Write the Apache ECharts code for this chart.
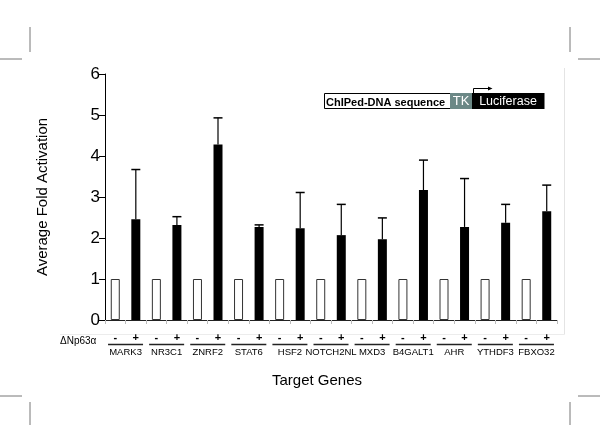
<!DOCTYPE html>
<html><head><meta charset="utf-8">
<script src="https://cdn.jsdelivr.net/npm/echarts@6/dist/echarts.min.js"></script>
<style>html,body{margin:0;padding:0;background:#fff}#c{width:600px;height:425px}</style>
</head><body><div id="c"></div>
<script>
const genes = ['MARK3','NR3C1','ZNRF2','STAT6','HSF2','NOTCH2NL','MXD3','B4GALT1','AHR','YTHDF3','FBXO32'];
const signs = ['-', '+'];
const controlValues = [1, 1, 1, 1, 1, 1, 1, 1, 1, 1, 1];
const treatedValues = [2.46, 2.32, 4.28, 2.27, 2.24, 2.07, 1.97, 3.17, 2.27, 2.37, 2.65];
const treatedErrors = [1.21, 0.20, 0.65, 0.05, 0.87, 0.75, 0.52, 0.73, 1.18, 0.45, 0.64];
const yMin = 0, yMax = 6, yStep = 1;

const FONT = 'Liberation Sans, Arial, sans-serif';
const cats = [];
const barData = [];
const errData = [];
genes.forEach((g, i) => {
  cats.push(g + '|' + signs[0]);
  barData.push({ value: controlValues[i], itemStyle: { color: '#fff', borderColor: '#333', borderWidth: 1 } });
  cats.push(g + '|' + signs[1]);
  barData.push({ value: treatedValues[i], itemStyle: { color: '#000' } });
  errData.push([2 * i + 1, treatedValues[i], treatedValues[i] + treatedErrors[i]]);
});

const chart = echarts.init(document.getElementById('c'), null, { renderer: 'canvas' });
const cropColor = '#777';
chart.setOption({
  animation: false,
  backgroundColor: '#fff',
  grid: { left: 105, right: 43, top: 74, bottom: 105, containLabel: false },
  xAxis: [{
    type: 'category', data: cats, position: 'bottom',
    axisLine: { lineStyle: { color: '#222', width: 1 } },
    axisTick: { show: true, length: 4, lineStyle: { color: '#bbb' } },
    axisLabel: { interval: 0, margin: 12, fontFamily: FONT, fontSize: 11, fontWeight: 'bold', color: '#000',
      formatter: v => v.split('|')[1] }
  }, {
    type: 'category', data: genes, position: 'bottom', gridIndex: 0,
    axisLine: { show: false }, axisTick: { show: false },
    axisLabel: { interval: 0, margin: 23.5, color: '#000',
      formatter: v => '{ln| }\n{nm|' + v + '}',
      rich: {
        ln: { width: 35, height: 1.5, lineHeight: 2, fontSize: 1, backgroundColor: '#222' },
        nm: { fontFamily: FONT, fontSize: 9.5, lineHeight: 12, color: '#000', padding: [1, 0, 0, 0] }
      } }
  }],
  yAxis: {
    type: 'value', min: yMin, max: yMax, interval: yStep,
    name: 'Average Fold Activation', nameLocation: 'middle', nameGap: 55, nameRotate: 90,
    nameTextStyle: { fontFamily: FONT, fontSize: 15, color: '#000' },
    axisLine: { show: true, lineStyle: { color: '#000', width: 1 } },
    axisTick: { show: true, length: 6, lineStyle: { color: '#000' } },
    axisLabel: { fontFamily: FONT, fontSize: 17, color: '#000', margin: 5 },
    splitLine: { show: false }
  },
  series: [{
    type: 'bar', xAxisIndex: 0, data: barData, barWidth: 9
  }, {
    type: 'custom', xAxisIndex: 0, data: errData, z: 3,
    renderItem: (params, api) => {
      const base = api.coord([api.value(0), api.value(1)]);
      const top = api.coord([api.value(0), api.value(2)]);
      const hw = 4.5;
      return { type: 'group', children: [
        { type: 'line', shape: { x1: base[0], y1: base[1], x2: top[0], y2: top[1] }, style: { stroke: '#000', lineWidth: 1.2 } },
        { type: 'line', shape: { x1: top[0] - hw, y1: top[1], x2: top[0] + hw, y2: top[1] }, style: { stroke: '#000', lineWidth: 1.5 } }
      ] };
    }
  }],
  graphic: [
    // crop marks
    { type: 'line', shape: { x1: 30, y1: 27, x2: 30, y2: 52 }, style: { stroke: cropColor, lineWidth: 1 } },
    { type: 'line', shape: { x1: 0, y1: 59, x2: 22, y2: 59 }, style: { stroke: cropColor, lineWidth: 1 } },
    { type: 'line', shape: { x1: 570, y1: 27, x2: 570, y2: 52 }, style: { stroke: cropColor, lineWidth: 1 } },
    { type: 'line', shape: { x1: 578, y1: 59, x2: 600, y2: 59 }, style: { stroke: cropColor, lineWidth: 1 } },
    { type: 'line', shape: { x1: 0, y1: 396, x2: 22, y2: 396 }, style: { stroke: cropColor, lineWidth: 1 } },
    { type: 'line', shape: { x1: 30, y1: 402, x2: 30, y2: 425 }, style: { stroke: cropColor, lineWidth: 1 } },
    { type: 'line', shape: { x1: 578, y1: 396, x2: 600, y2: 396 }, style: { stroke: cropColor, lineWidth: 1 } },
    { type: 'line', shape: { x1: 570, y1: 402, x2: 570, y2: 425 }, style: { stroke: cropColor, lineWidth: 1 } },
    // faint frame
    { type: 'line', shape: { x1: 564.5, y1: 68, x2: 564.5, y2: 334.5 }, style: { stroke: '#e4e4e4', lineWidth: 1 } },
    { type: 'line', shape: { x1: 60, y1: 334.5, x2: 564.5, y2: 334.5 }, style: { stroke: '#ececec', lineWidth: 1 } },
    // inset construct diagram
    { type: 'rect', shape: { x: 324.5, y: 93.5, width: 126, height: 15 }, style: { fill: '#fff', stroke: '#000', lineWidth: 1 } },
    { type: 'rect', shape: { x: 450, y: 93, width: 22, height: 16 }, style: { fill: '#6b8886' } },
    { type: 'rect', shape: { x: 472, y: 93, width: 72.5, height: 16 }, style: { fill: '#000' } },
    { type: 'text', x: 326, y: 108, style: { text: 'ChIPed-DNA sequence', font: 'bold 11px ' + FONT, fill: '#000', textVerticalAlign: 'bottom' } },
    { type: 'text', x: 461, y: 101.5, style: { text: 'TK', font: '13px ' + FONT, fill: '#fff', textAlign: 'center', textVerticalAlign: 'middle' } },
    { type: 'text', x: 508, y: 101.5, style: { text: 'Luciferase', font: '12.5px ' + FONT, fill: '#fff', textAlign: 'center', textVerticalAlign: 'middle' } },
    { type: 'polyline', shape: { points: [[473.5, 93], [473.5, 88.5], [489, 88.5]] }, style: { stroke: '#000', lineWidth: 1, fill: null } },
    { type: 'polygon', shape: { points: [[488, 86.5], [492.5, 88.5], [488, 90.5]] }, style: { fill: '#000' } },
    // labels
    { type: 'text', x: 60, y: 341.5, style: { text: 'ΔNp63α', font: '10px ' + FONT, fill: '#000', textVerticalAlign: 'middle' } },
    { type: 'text', x: 317, y: 381, style: { text: 'Target Genes', font: '15px ' + FONT, fill: '#000', textAlign: 'center', textVerticalAlign: 'middle' } }
  ]
});
</script>
</body></html>
